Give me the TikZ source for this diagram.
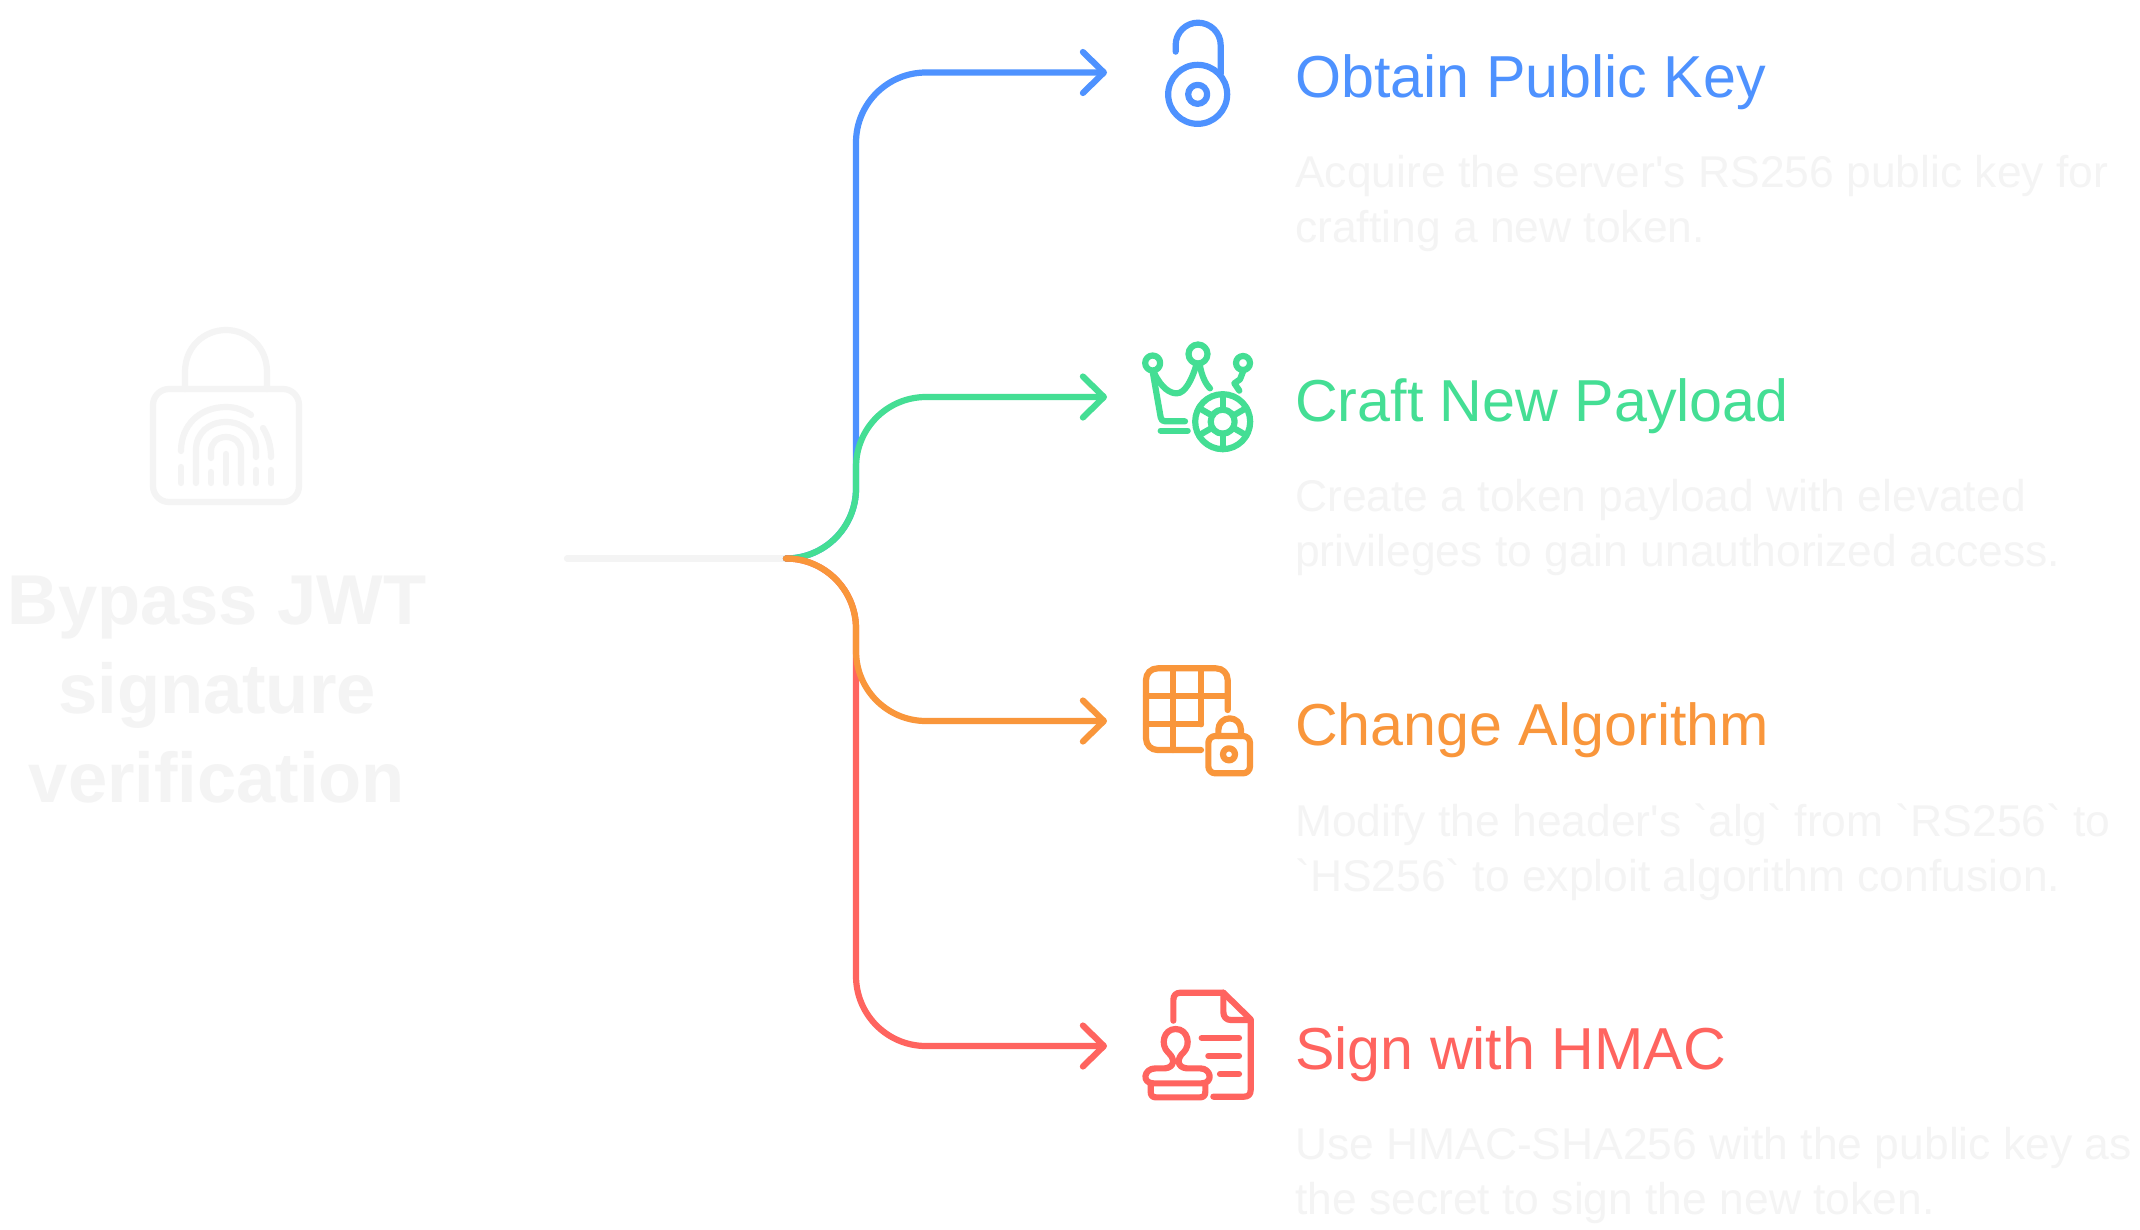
\documentclass[tikz,border=0pt]{standalone}
\usepackage{fontspec}
\usetikzlibrary{arrows.meta}
\newfontfamily\rf{Liberation Sans}
\definecolor{cblue}{RGB}{78,146,255}
\definecolor{cgreen}{RGB}{68,222,148}
\definecolor{corange}{RGB}{249,150,59}
\definecolor{cred}{RGB}{255,100,95}
\definecolor{cgrey}{RGB}{244,244,244}
\tikzset{
  conn/.style={line width=6.2pt,line cap=round,line join=round,rounded corners=70pt,
    -{Straight Barb[length=21pt,width=41pt,round,line width=6.2pt]}},
  ico/.style={line width=6.2pt,line cap=round,line join=round},
  title/.style={anchor=base west,inner sep=0pt,font=\rf\fontsize{59.2}{64}\selectfont},
  desc/.style={anchor=north west,inner sep=0pt,align=left,text=cgrey,font=\rf\fontsize{44.4}{54.6}\selectfont},
  mainlabel/.style={anchor=center,inner sep=0pt,align=center,text=cgrey,font=\rf\bfseries\fontsize{70.5}{89}\selectfont},
}
\begin{document}
\begin{tikzpicture}[x=1pt,y=-1pt]
\useasboundingbox (0,0) rectangle (2140,1229);
\fill[white] (0,0) rectangle (2140,1229);
% hub
\coordinate (start) at (567,558.5);
\coordinate (hub) at (786,558.5);
\coordinate (j) at (856,558.5);
\coordinate (end1) at (1107,72.5);
\coordinate (end2) at (1107,397);
\coordinate (end3) at (1107,721);
\coordinate (end4) at (1107,1046);
\draw[line width=6.2pt,line cap=round,cgrey] (start) -- (hub);
\draw[conn,cblue] (hub) -- (j) |- (end1);
\draw[conn,cgreen] (hub) -- (j) |- (end2);
\draw[conn,cred] (hub) -- (j) |- (end4);
\draw[conn,corange] (hub) -- (j) |- (end3);
% grey lock
\begin{scope}[cgrey,ico]
\draw[rounded corners=16pt] (153,389) rectangle (299,502);
\draw (185,389) -- (185,372) .. controls (185,346) and (205,330) .. (226,330) .. controls (247,330) and (267,346) .. (267,372) -- (267,389);
\draw (181,451) .. controls (181,425) and (200,407) .. (226,407) .. controls (236,407) and (244,410) .. (251,415);
\draw (263,428) .. controls (268,436) and (271,446) .. (271,457);
\draw (196,483) -- (196,450) .. controls (196,433) and (209,422) .. (226,422) .. controls (243,422) and (256,433) .. (256,450) -- (256,457);
\draw (211,458) -- (211,451) .. controls (211,443) and (217,437) .. (226,437) .. controls (235,437) and (241,443) .. (241,451) -- (241,483);
\draw (226,454) -- (226,483);
\draw (181,467) -- (181,483);
\draw (211,472) -- (211,483);
\draw (256,470) -- (256,483);
\draw (271,470) -- (271,483);
\end{scope}
% blue icon
\begin{scope}[shift={(1120,0)},x=0.33333pt,y=-0.33333pt,cblue,ico]
\draw (233,283) circle[radius=29.5pt];
\draw (233,283) circle[radius=9.5pt];
\draw (167,155) -- (167,135) .. controls (167,98) and (197,68) .. (234,68) .. controls (271,68) and (302,98) .. (302,135) -- (302,222);
\end{scope}
% green icon
\begin{scope}[shift={(1120,330)},x=0.33333pt,y=-0.33333pt,cgreen,ico]
\draw (98,99) circle[radius=7.5pt];
\draw (234,72) circle[radius=9.5pt];
\draw (369,99) circle[radius=7pt];
\draw (98,125) -- (122,262) .. controls (123,270) and (128,274) .. (136,274) -- (195,274);
\draw (122,302) -- (203,302);
\draw (103,130) .. controls (125,175) and (150,190) .. (170,190) .. controls (195,190) and (215,150) .. (228,108);
\draw (240,108) .. controls (245,135) and (255,160) .. (270,175);
\draw (369,125) -- (360,148) -- (343,160) -- (358,182);
\coordinate (wc) at (308,275);
\draw (wc) circle[radius=27.5pt];
\draw (wc) circle[radius=12pt];
\foreach \a in {30,90,150,210,270,330}{
  \draw (wc) ++(\a:12pt) -- ++(\a:15.5pt);
}
\end{scope}
% orange icon
\begin{scope}[shift={(1120,655)},x=0.33333pt,y=-0.33333pt,corange,ico]
\draw (323,165) -- (323,75) .. controls (323,55) and (308,40) .. (288,40) -- (113,40) .. controls (93,40) and (78,55) .. (78,75) -- (78,250) .. controls (78,270) and (93,285) .. (113,285) -- (243,285);
\draw (160,40) -- (160,285);
\draw (243,40) -- (243,208);
\draw (78,122) -- (323,122);
\draw (78,208) -- (243,208);
\draw[rounded corners=7pt] (265,243) rectangle (390,355);
\draw (295,243) -- (295,225) .. controls (295,205) and (310,190) .. (329,190) .. controls (348,190) and (363,205) .. (363,225) -- (363,243);
\draw (327,298) circle[radius=6pt];
\end{scope}
% red icon
\begin{scope}[shift={(1120,980)},x=0.33333pt,y=-0.33333pt,cred,ico]
\draw (160,122) -- (160,60) .. controls (160,46) and (168,38) .. (182,38) -- (310,38) -- (392,118) -- (392,330) .. controls (392,343) and (385,350) .. (372,350) -- (280,350);
\draw (310,38) -- (310,95) .. controls (310,110) and (318,120) .. (333,120) -- (392,120);
\draw (245,174) -- (357,174);
\draw (265,228) -- (357,228);
\draw (300,282) -- (357,282);
\draw (107,265) -- (135,265) .. controls (165,262) and (165,235) .. (145,218) .. controls (120,195) and (130,147) .. (167,147) .. controls (204,147) and (214,195) .. (190,218) .. controls (170,235) and (170,262) .. (200,265) -- (240,265) .. controls (275,265) and (280,310) .. (245,310) -- (100,310) .. controls (65,310) and (70,265) .. (107,265);
\draw (92,310) -- (92,335) .. controls (92,347) and (98,352) .. (108,352) -- (240,352) .. controls (250,352) and (256,347) .. (256,335) -- (256,310);
\end{scope}
% texts
\node[mainlabel] (main) at (217,690) {Bypass JWT\\signature\\verification};
\node[title,text=cblue] (t1) at (1295,97) {Obtain Public Key};
\node[title,text=cgreen] (t2) at (1295,421) {Craft New Payload};
\node[title,text=corange] (t3) at (1295,745) {Change Algorithm};
\node[title,text=cred] (t4) at (1295,1069) {Sign with HMAC};
\node[desc] (d1) at (1295,155.5) {Acquire the server's RS256 public key for\\crafting a new token.};
\node[desc] (d2) at (1295,479.5) {Create a token payload with elevated\\privileges to gain unauthorized access.};
\node[desc] (d3) at (1295,803.5) {Modify the header's `alg` from `RS256` to\\`HS256` to exploit algorithm confusion.};
\node[desc] (d4) at (1295,1127.5) {Use HMAC-SHA256 with the public key as\\the secret to sign the new token.};
\end{tikzpicture}
\end{document}
